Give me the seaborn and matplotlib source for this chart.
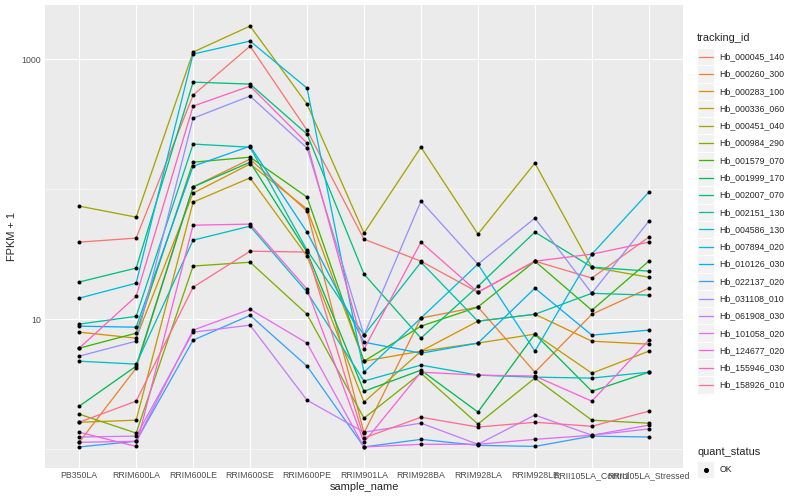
import numpy as np
import pandas as pd
import matplotlib
matplotlib.use("Agg")
import matplotlib.pyplot as plt
import seaborn as sns
from matplotlib.lines import Line2D
from matplotlib.patches import Rectangle
from matplotlib.legend_handler import HandlerLine2D
from matplotlib.ticker import FixedLocator, NullFormatter

# ---------------- data (FPKM + 1) ----------------
samples = ["PB350LA", "RRIM600LA", "RRIM600LE", "RRIM600SE", "RRIM600PE",
           "RRIM901LA", "RRIM928BA", "RRIM928LA", "RRIM928LE",
           "RRII105LA_Control", "RRII105LA_Stressed"]

tracking_ids = ["Hb_000045_140", "Hb_000260_300", "Hb_000283_100", "Hb_000336_060",
                "Hb_000451_040", "Hb_000984_290", "Hb_001579_070", "Hb_001999_170",
                "Hb_002007_070", "Hb_002151_130", "Hb_004586_130", "Hb_007894_020",
                "Hb_010126_030", "Hb_022137_020", "Hb_031108_010", "Hb_061908_030",
                "Hb_101058_020", "Hb_124677_020", "Hb_155946_030", "Hb_158926_010"]

hb_000045_140 = [39.1, 42.0, 528, 1259, 284, 41.2, 27.9, 16.1, 27.9, 20.7, 42.7]
hb_000260_300 = [1.13, 4.20, 104, 170, 67.7, 1.33, 10.2, 12.4, 3.91, 10.9, 17.3]
hb_000283_100 = [7.94, 7.14, 93.1, 156, 70.2, 4.75, 5.67, 9.65, 10.9, 6.77, 6.42]
hb_000336_060 = [1.61, 1.67, 79.4, 122, 30.5, 2.30, 5.67, 6.54, 7.67, 3.84, 5.67]
hb_000451_040 = [74.0, 60.9, 1132, 1795, 451, 45.9, 210, 45.1, 158.5, 25.1, 21.0]
hb_000984_290 = [1.86, 1.33, 25.6, 27.4, 10.9, 1.73, 3.84, 1.56, 3.52, 1.67, 1.585]
hb_001579_070 = [5.98, 7.80, 161, 176, 86.8, 4.75, 8.83, 12.4, 27.9, 11.7, 27.9]
hb_001999_170 = [2.14, 4.35, 104, 161, 32.8, 2.79, 4.05, 1.93, 7.67, 2.79, 3.91]
hb_002007_070 = [19.3, 24.7, 665, 642, 265, 22.2, 7.14, 17.9, 46.7, 25.1, 23.4]
hb_002151_130 = [9.16, 10.5, 222, 210, 33.9, 7.53, 27.4, 9.65, 10.9, 15.8, 15.3]
hb_004586_130 = [4.75, 4.51, 40.5, 51.9, 16.1, 3.34, 4.43, 3.71, 3.58, 3.52, 3.91]
hb_007894_020 = [14.5, 18.9, 1093, 1375, 598, 3.91, 10.2, 26.5, 5.67, 31.6, 94.8]
hb_010126_030 = [8.83, 8.67, 150, 214, 46.7, 6.65, 5.47, 6.54, 17.3, 7.53, 8.23]
hb_022137_020 = [1.04, 1.15, 6.89, 10.7, 4.35, 1.04, 1.19, 1.07, 1.05, 1.26, 1.24]
hb_031108_010 = [5.19, 6.77, 351, 519, 207, 7.53, 80.9, 26.5, 59.8, 15.8, 56.7]
hb_061908_030 = [1.24, 1.26, 7.94, 8.99, 2.38, 1.35, 1.585, 1.09, 1.83, 1.28, 1.43]
hb_101058_020 = [1.13, 1.15, 8.23, 11.9, 6.54, 1.04, 1.09, 1.09, 1.19, 1.28, 1.53]
hb_124677_020 = [1.35, 1.05, 52.8, 53.8, 17.0, 1.13, 3.91, 3.71, 3.65, 2.34, 6.89]
hb_155946_030 = [5.98, 15.0, 435, 620, 226, 5.88, 39.1, 16.1, 27.9, 31.6, 39.1]
hb_158926_010 = [1.61, 2.34, 17.6, 33.3, 32.8, 1.22, 1.76, 1.48, 1.61, 1.50, 1.96]

series = [hb_000045_140, hb_000260_300, hb_000283_100, hb_000336_060, hb_000451_040,
          hb_000984_290, hb_001579_070, hb_001999_170, hb_002007_070, hb_002151_130,
          hb_004586_130, hb_007894_020, hb_010126_030, hb_022137_020, hb_031108_010,
          hb_061908_030, hb_101058_020, hb_124677_020, hb_155946_030, hb_158926_010]

palette = ["#F8766D", "#EA8331", "#D89000", "#C09B00", "#A3A500", "#7CAE00", "#39B600",
           "#00BB4E", "#00BF7D", "#00C1A3", "#00BFC4", "#00BAE0", "#00B0F6", "#35A2FF",
           "#9590FF", "#C77CFF", "#E76BF3", "#FA62DB", "#FF62BC", "#FF6C91"]

rows = []
for tid, vals in zip(tracking_ids, series):
    for s, v in zip(samples, vals):
        rows.append({"sample_name": s, "tracking_id": tid, "value": v, "quant_status": "OK"})
df = pd.DataFrame(rows)
df["xpos"] = df["sample_name"].map({s: i for i, s in enumerate(samples)})

# ---------------- figure ----------------
sns.set_style("white")
plt.rcParams["font.family"] = ["Liberation Sans", "DejaVu Sans"]

W, H = 800, 500
fig = plt.figure(figsize=(W / 72, H / 72), dpi=72)
ax = fig.add_axes([45 / W, 1 - 468 / H, (683 - 45) / W, (468 - 5) / H])
ax.set_facecolor("#EBEBEB")
for sp in ax.spines.values():
    sp.set_visible(False)

sns.lineplot(data=df, x="xpos", y="value", hue="tracking_id", hue_order=tracking_ids,
             palette=palette, linewidth=1.3, legend=False, ax=ax, estimator=None,
             sort=False, zorder=3)
sns.scatterplot(data=df, x="xpos", y="value", color="black", s=16, linewidth=0,
                legend=False, ax=ax, zorder=4)

ax.set_yscale("log")
lo = np.log10(df["value"].min())
hi = np.log10(df["value"].max())
pad = (hi - lo) * 0.05
ax.set_ylim(10 ** (lo - pad), 10 ** (hi + pad))
ax.set_xlim(-0.6, len(samples) - 1 + 0.6)

ax.yaxis.set_major_locator(FixedLocator([10, 1000]))
ax.set_yticklabels(["10", "1000"])
ax.yaxis.set_minor_locator(FixedLocator([1, 100]))
ax.yaxis.set_minor_formatter(NullFormatter())
ax.set_xticks(range(len(samples)))
ax.set_xticklabels(samples)

ax.grid(True, which="major", color="white", linewidth=1.1, zorder=0)
ax.grid(True, which="minor", axis="y", color="white", linewidth=0.55, zorder=0)
ax.set_axisbelow(True)
ax.tick_params(axis="both", which="major", length=2.75, width=1.0, color="#333333",
               labelsize=8.8, labelcolor="#4D4D4D", pad=1.5)
ax.tick_params(axis="x", which="major", pad=0)
ax.tick_params(axis="y", which="minor", length=0)
ax.set_xlabel("sample_name", fontsize=11, labelpad=2.5)
ax.set_ylabel("FPKM + 1", fontsize=11, labelpad=4)


class KeyLine(HandlerLine2D):
    def create_artists(self, legend, orig_handle, xdescent, ydescent, width, height,
                       fontsize, trans):
        rect = Rectangle((-xdescent, -ydescent), width, height, facecolor="#F2F2F2",
                         edgecolor="white", linewidth=0.8, transform=trans)
        y = -ydescent + height / 2
        if orig_handle.get_linestyle() in ("None", "none", ""):
            art = Line2D([-xdescent + width / 2], [y], marker="o", markersize=4,
                         color="black", linestyle="None", transform=trans)
        else:
            art = Line2D([-xdescent + 1.7, -xdescent + width - 1.7], [y, y],
                         color=orig_handle.get_color(), linewidth=1.3, transform=trans)
        return [rect, art]


fs = 8.8
key = 17.28
hh = (key / fs - 0.245) / 0.65   # gives a handle box exactly `key` px tall
common = dict(loc="upper left", frameon=False, fontsize=fs, title_fontsize=11,
              handlelength=key / fs, handleheight=hh, labelspacing=0,
              handletextpad=0.62, borderpad=0, borderaxespad=0, alignment="left",
              handler_map={Line2D: KeyLine()})

handles = [Line2D([], [], color=c, linewidth=1.3) for c in palette]
leg1 = fig.legend(handles, tracking_ids, title="tracking_id",
                  bbox_to_anchor=(697 / W, 1 - 33 / H), **common)
leg1._legend_box.sep = 5
leg2 = fig.legend([Line2D([], [], marker="o", color="black", linestyle="None")], ["OK"],
                  title="quant_status", bbox_to_anchor=(697 / W, 1 - 447 / H), **common)
leg2._legend_box.sep = 4

fig.savefig("out.png", dpi=72, facecolor="white")
